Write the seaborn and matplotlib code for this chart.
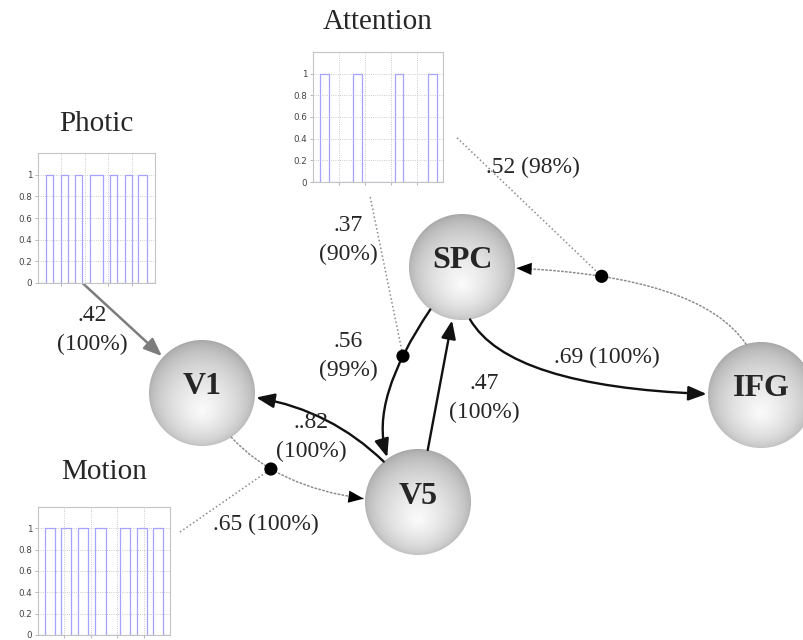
import numpy as np
import matplotlib
matplotlib.use("Agg")
import matplotlib.pyplot as plt
import seaborn as sns
from matplotlib.patches import Circle, FancyArrowPatch, ConnectionStyle

# Regions (pixel layout of the diagram)
node_names = ["V1", "V5", "SPC", "IFG"]
node_x = [202, 418, 462, 761]
node_y = [393, 502, 267, 395]
node_radius = 53

# Intrinsic connections
conn_source = ["V5", "V1", "V5", "SPC", "SPC", "IFG"]
conn_target = ["V1", "V5", "SPC", "V5", "IFG", "SPC"]
conn_label = ["..82\n(100%)", "", ".47\n(100%)", ".56\n(99%)", ".69 (100%)", ""]
conn_label_x = [311, 0, 484, 348, 607, 0]
conn_label_y = [437, 0, 398, 356, 357, 0]
conn_dotted = [False, True, False, False, False, True]
conn_style = ["angle3,angleA=125,angleB=0",
              "angle3,angleA=-65,angleB=0",
              "arc3,rad=0",
              "angle3,angleA=-129,angleB=-40",
              "angle3,angleA=-100,angleB=0",
              "angle3,angleA=90,angleB=0"]

# Inputs: stimulus functions (scan, on/off)
photic_t = [0, 18, 32, 50, 64, 79, 93, 111, 139, 154, 168, 186, 200, 214, 232, 250]
photic_u = [0, 1, 0, 1, 0, 1, 0, 1, 0, 1, 0, 1, 0, 1, 0, 0]
attention_t = [0, 13, 31, 77, 95, 157, 174, 221, 238, 250]
attention_u = [0, 1, 0, 1, 0, 1, 0, 1, 0, 0]
motion_t = [0, 13, 32, 44, 63, 76, 95, 108, 128, 155, 174, 187, 206, 218, 237, 250]
motion_u = [0, 1, 0, 1, 0, 1, 0, 1, 0, 1, 0, 1, 0, 1, 0, 0]

input_names = ["Photic", "Attention", "Motion"]
input_boxes = [(38, 153, 155, 283), (313, 52, 443, 182), (38, 507, 170, 635)]
input_title_y = [124, 22, 472]

# Driving input
drive_label = ".42\n(100%)"
drive_label_xy = (92, 330)

# Modulatory effects: input, modulated connection index, position on edge, label
mod_input = ["Attention", "Attention", "Motion"]
mod_conn = [3, 5, 1]
mod_t = [0.3, 0.73, 0.45]
mod_label = [".37\n(90%)", ".52 (98%)", ".65 (100%)"]
mod_label_x = [348, 533, 266]
mod_label_y = [240, 167, 524]

sns.set_style("white")
plt.rcParams["font.family"] = ["Liberation Serif", "DejaVu Serif"]

W, H = 804, 640
fig = plt.figure(figsize=(W / 100, H / 100), dpi=100)
ax = fig.add_axes([0, 0, 1, 1])
ax.set_xlim(0, W)
ax.set_ylim(H, 0)
ax.axis("off")

# sphere shading for region nodes
g = np.linspace(-1, 1, 240)
X, Y = np.meshgrid(g, g)
r = np.hypot(X, Y)
d = np.hypot(X, Y - 0.35)
val = 0.6 * np.clip(1 - d / 1.35, 0, 1) + 0.4 * np.sqrt(np.clip(1 - r ** 2, 0, 1))
shade = 0.64 + 0.35 * val

circles = {}
for name, cx, cy in zip(node_names, node_x, node_y):
    c = Circle((cx, cy), node_radius, fc="none", ec="none", zorder=2)
    ax.add_patch(c)
    circles[name] = c
    ax.imshow(shade, cmap="gray", vmin=0, vmax=1, interpolation="bilinear",
              extent=(cx - node_radius, cx + node_radius, cy + node_radius, cy - node_radius),
              clip_path=c, zorder=2)
    ax.text(cx, cy - 6, name, ha="center", va="center", fontsize=23,
            fontweight="bold", zorder=5)

pos = {n: (x, y) for n, x, y in zip(node_names, node_x, node_y)}
head = "-|>,head_length=0.55,head_width=0.22"


def conn_vertices(a, b, style):
    cs = ConnectionStyle(style)
    p = cs(ax.transData.transform(a), ax.transData.transform(b), shrinkA=0, shrinkB=0)
    return ax.transData.inverted().transform(p.vertices)


def bezier(v, t):
    return (1 - t) ** 2 * v[0] + 2 * t * (1 - t) * v[1] + t ** 2 * v[2]


for i in range(len(conn_source)):
    a, b = pos[conn_source[i]], pos[conn_target[i]]
    pa, pb = circles[conn_source[i]], circles[conn_target[i]]
    if conn_dotted[i]:
        ax.add_patch(FancyArrowPatch(a, b, connectionstyle=conn_style[i], patchA=pa, patchB=pb,
                                     shrinkA=0, shrinkB=1, arrowstyle="-", color="#8a8a8a",
                                     lw=1.1, linestyle=(0, (1, 1.6)), zorder=3))
        ax.add_patch(FancyArrowPatch(a, b, connectionstyle=conn_style[i], patchA=pa, patchB=pb,
                                     shrinkA=0, shrinkB=1, arrowstyle=head, mutation_scale=20,
                                     color="black", lw=0, zorder=3))
    else:
        ax.add_patch(FancyArrowPatch(a, b, connectionstyle=conn_style[i], patchA=pa, patchB=pb,
                                     shrinkA=0, shrinkB=1, arrowstyle=head, mutation_scale=20,
                                     color="#111111", lw=1.7, zorder=3))
    if conn_label[i]:
        ax.text(conn_label_x[i], conn_label_y[i], conn_label[i], ha="center", va="center",
                fontsize=17, linespacing=1.5, zorder=5)

# input plots
series = {"Photic": (photic_t, photic_u), "Attention": (attention_t, attention_u),
          "Motion": (motion_t, motion_u)}
boxes = dict(zip(input_names, input_boxes))
for name, (x0, y0, x1, y1), ty in zip(input_names, input_boxes, input_title_y):
    iax = fig.add_axes([x0 / W, 1 - y1 / H, (x1 - x0) / W, (y1 - y0) / H])
    t, u = series[name]
    sns.lineplot(x=t, y=u, drawstyle="steps-post", estimator=None, sort=False,
                 color="#a4a4ff", lw=0.9, ax=iax)
    iax.set_xlim(0, 250)
    iax.set_ylim(0, 1.2)
    iax.set_xticks([50, 100, 150, 200])
    iax.set_xticklabels([])
    iax.set_yticks([0, 0.2, 0.4, 0.6, 0.8, 1])
    iax.set_yticklabels(["0", "0.2", "0.4", "0.6", "0.8", "1"], family="DejaVu Sans")
    iax.tick_params(labelsize=6.3, length=2, width=0.5, color="#999999",
                    labelcolor="#444444", pad=2, left=True, bottom=True)
    iax.grid(True, ls=":", color="#bbbbbb", lw=0.6)
    iax.set_xlabel("")
    iax.set_ylabel("")
    for s in iax.spines.values():
        s.set_color("#c4c4c4")
        s.set_linewidth(0.8)
    ax.text((x0 + x1) / 2, ty, name, ha="center", va="center", fontsize=21, zorder=5)

# driving input arrow
px0, py0, px1, py1 = boxes["Photic"]
photic_anchor = (px0 + 0.38 * (px1 - px0), py1)
ax.add_patch(FancyArrowPatch(photic_anchor, pos["V1"], patchB=circles["V1"], shrinkA=0,
                             shrinkB=1, arrowstyle=head, mutation_scale=20, color="#7c7c7c",
                             lw=1.8, zorder=3))
ax.text(drive_label_xy[0], drive_label_xy[1], drive_label, ha="center", va="center",
        fontsize=17, linespacing=1.5, zorder=5)

# modulatory inputs
ax0, ay0, ax1, ay1 = boxes["Attention"]
mx0, my0, mx1, my1 = boxes["Motion"]
mod_anchor = [(ax0 + 0.44 * (ax1 - ax0), ay1 + 15),
              (ax1 + 14, ay0 + 0.66 * (ay1 - ay0)),
              (mx1 + 10, my0 + 25)]
dot_x, dot_y = [], []
for k in range(len(mod_input)):
    i = mod_conn[k]
    v = conn_vertices(pos[conn_source[i]], pos[conn_target[i]], conn_style[i])
    px, py = bezier(v, mod_t[k])
    dot_x.append(px)
    dot_y.append(py)
    ax.plot([mod_anchor[k][0], px], [mod_anchor[k][1], py], ls=(0, (1, 1.6)),
            color="#8a8a8a", lw=1.1, zorder=3)
    ax.text(mod_label_x[k], mod_label_y[k], mod_label[k], ha="center", va="center",
            fontsize=17, linespacing=1.5, zorder=5)

sns.scatterplot(x=dot_x, y=dot_y, color="black", s=90, edgecolor="none", legend=False,
                ax=ax, zorder=6)
ax.set_xlim(0, W)
ax.set_ylim(H, 0)
ax.axis("off")

fig.savefig("out.png", dpi=100, facecolor="white")
